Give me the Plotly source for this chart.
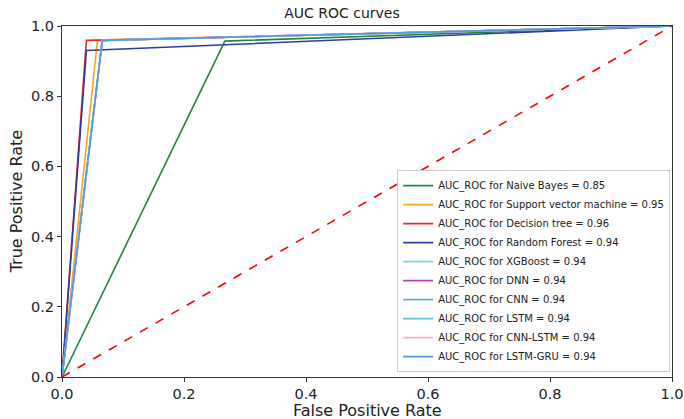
import plotly.graph_objects as go

models = ["Naive Bayes", "Support vector machine", "Decision tree", "Random Forest",
          "XGBoost", "DNN", "CNN", "LSTM", "CNN-LSTM", "LSTM-GRU"]
auc = [0.85, 0.95, 0.96, 0.94, 0.94, 0.94, 0.94, 0.94, 0.94, 0.94]
fpr_mid = [0.267, 0.058, 0.040, 0.040, 0.066, 0.066, 0.066, 0.066, 0.066, 0.066]
tpr_mid = [0.957, 0.958, 0.959, 0.930, 0.959, 0.959, 0.959, 0.959, 0.959, 0.959]
colors = ["#1f8a3c", "#f5a623", "#e8282b", "#2c3e9e", "#7fd3e6", "#b048b0",
          "#62b0e0", "#62c6d8", "#f6b3c8", "#4f9be2"]
tick_vals = [0, 0.2, 0.4, 0.6, 0.8, 1.0]
tick_text = ["0.0", "0.2", "0.4", "0.6", "0.8", "1.0"]

fig = go.Figure()
for m, a, f, t, c in zip(models, auc, fpr_mid, tpr_mid, colors):
    fig.add_trace(go.Scatter(x=[0, f, 1], y=[0, t, 1], mode="lines",
                             line=dict(color=c, width=1.6),
                             name=f"AUC_ROC for {m} = {a:.2f}"))
fig.add_trace(go.Scatter(x=[0, 1], y=[0, 1], mode="lines",
                         line=dict(color="red", width=1.6, dash="dash"),
                         showlegend=False))

font = "DejaVu Sans"
axis_common = dict(range=[0, 1], tickvals=tick_vals, ticktext=tick_text, automargin=False,
                   ticks="outside", ticklen=4, tickcolor="#333", showgrid=False, zeroline=False,
                   showline=True, linecolor="#333", mirror=True, linewidth=1,
                   tickfont=dict(size=14.5))
fig.update_layout(
    width=684, height=419,
    margin=dict(l=62, r=12, t=26, b=42),
    plot_bgcolor="white", paper_bgcolor="white",
    font=dict(family=font, color="#222"),
    title=dict(text="AUC ROC curves", x=0.5, xanchor="center", y=1 - 13 / 419, yanchor="middle",
               font=dict(size=14, family=font, color="#222")),
    xaxis=axis_common,
    yaxis=axis_common,
    legend=dict(x=0.997, y=0.014, xanchor="right", yanchor="bottom",
                bgcolor="white", bordercolor="#ccc", borderwidth=1,
                font=dict(size=10, family=font), itemwidth=30, tracegroupgap=0),
    annotations=[
        dict(text="False Positive Rate", xref="paper", yref="paper", x=0.5, y=-0.095,
             xanchor="center", yanchor="middle", showarrow=False, font=dict(size=16)),
        dict(text="True Positive Rate", xref="paper", yref="paper", x=-0.074, y=0.5,
             xanchor="center", yanchor="middle", textangle=-90, showarrow=False, font=dict(size=16)),
    ],
)
fig.write_html("out.html")
